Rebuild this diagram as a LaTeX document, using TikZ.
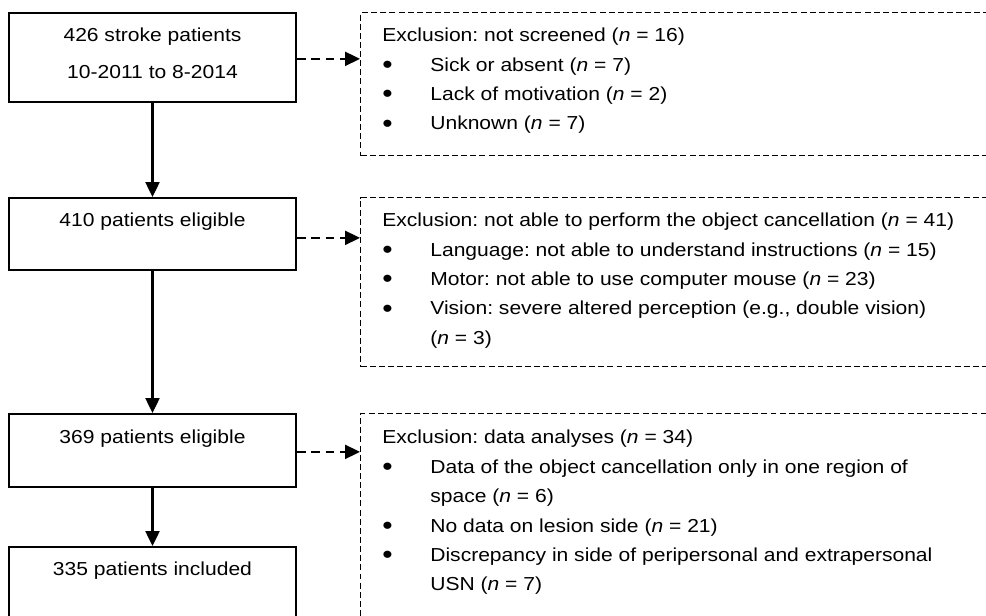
\documentclass[tikz,border=0pt]{standalone}
\usepackage{fontspec}
\setmainfont{Liberation Sans}[FakeStretch=1.12]
\usepackage{tikz}
\usetikzlibrary{arrows.meta}
\frenchspacing
\newcommand{\nn}{\textit{n}}
\newcommand{\itm}{\makebox[0.96cm][l]{\raisebox{-0.12em}{\scalebox{1.4}{\textbullet}}}}
\newcommand{\cont}{\hspace*{0.96cm}}

\begin{document}
\begin{tikzpicture}[x=0.02cm, y=-0.02cm,
    every node/.style={font=\fontsize{10.7pt}{16.7pt}\selectfont},
    box/.style={draw, line width=1pt, minimum width=5.74cm, anchor=north, inner sep=0pt},
    exbox/.style={draw, dash pattern=on 3.4pt off 1.8pt, line width=0.8pt, minimum width=15cm, anchor=north west, inner sep=0pt},
    boxtxt/.style={anchor=base, inner sep=0pt},
    extxt/.style={anchor=north west, align=left, inner sep=0pt},
    flow/.style={line width=1.4pt, -{Triangle[length=0.3cm, width=0.28cm]}},
    flowdash/.style={flow, line width=1.3pt, dash pattern=on 5pt off 3.2pt}]
    \useasboundingbox (0,0) rectangle (986,615);
    \clip (0,0) rectangle (986,615);

    \node[box, minimum height=1.78cm] (total) at (152.5,12) {};
    \node[boxtxt] (totaltxt) at ([yshift=-0.59cm]total.north) {426 stroke patients};
    \node[boxtxt] (periodtxt) at ([yshift=-1.33cm]total.north) {10-2011 to 8-2014};
    \node[box, minimum height=1.44cm] (elig1) at (152.5,197) {};
    \node[boxtxt] (elig1txt) at ([yshift=-0.59cm]elig1.north) {410 patients eligible};
    \node[box, minimum height=1.46cm] (elig2) at (152.5,413) {};
    \node[boxtxt] (elig2txt) at ([yshift=-0.6cm]elig2.north) {369 patients eligible};
    \node[box, minimum height=1.44cm] (incl) at (152.5,546) {};
    \node[boxtxt] (incltxt) at ([yshift=-0.59cm]incl.north) {335 patients included};

    \node[exbox, minimum height=2.86cm] (ex1) at (360,12) {};
    \node[extxt] (ex1txt) at ([xshift=0.44cm, yshift=-0.32cm]ex1.north west)
        {Exclusion: not screened (\nn{} = 16)\\
         \itm Sick or absent (\nn{} = 7)\\
         \itm Lack of motivation (\nn{} = 2)\\
         \itm Unknown (\nn{} = 7)};
    \node[exbox, minimum height=3.38cm] (ex2) at (360,197) {};
    \node[extxt] (ex2txt) at ([xshift=0.44cm, yshift=-0.32cm]ex2.north west)
        {Exclusion: not able to perform the object cancellation (\nn{} = 41)\\
         \itm Language: not able to understand instructions (\nn{} = 15)\\
         \itm Motor: not able to use computer mouse (\nn{} = 23)\\
         \itm Vision: severe altered perception (e.g., double vision)\\
         \cont (\nn{} = 3)};
    \node[exbox, minimum height=5cm] (ex3) at (360,413) {};
    \node[extxt] (ex3txt) at ([xshift=0.44cm, yshift=-0.34cm]ex3.north west)
        {Exclusion: data analyses (\nn{} = 34)\\
         \itm Data of the object cancellation only in one region of\\
         \cont space (\nn{} = 6)\\
         \itm No data on lesion side (\nn{} = 21)\\
         \itm Discrepancy in side of peripersonal and extrapersonal\\
         \cont USN (\nn{} = 7)};

    \draw[flow] (total) -- (elig1);
    \draw[flow] (elig1) -- (elig2);
    \draw[flow] (elig2) -- (incl);
    \draw[flowdash] ([yshift=-0.03cm]total.east) -- ([yshift=-0.03cm]total.east -| ex1.west);
    \draw[flowdash] ([yshift=-0.08cm]elig1.east) -- ([yshift=-0.08cm]elig1.east -| ex2.west);
    \draw[flowdash] ([yshift=-0.03cm]elig2.east) -- ([yshift=-0.03cm]elig2.east -| ex3.west);
\end{tikzpicture}
\end{document}
